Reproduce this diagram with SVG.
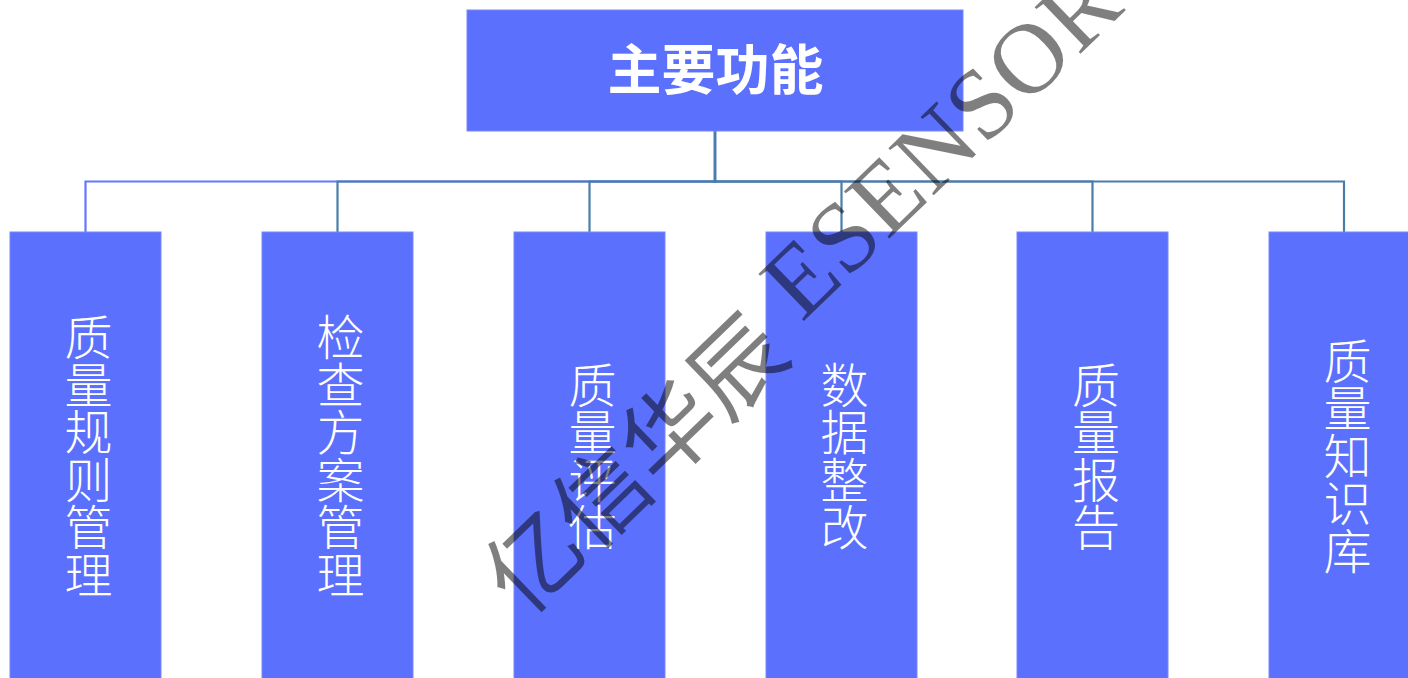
<svg xmlns="http://www.w3.org/2000/svg" width="1408" height="678" viewBox="0 0 1408 678">
<style>
.box{fill:#5B70FC;stroke:#7688FF;stroke-width:1}
.conn{fill:none;stroke:#4A7DA9;stroke-width:2.2}
.conn1{fill:none;stroke:#6676FF;stroke-width:2.2}
.title{font-family:"Noto Sans CJK SC",sans-serif;font-weight:700;font-size:54px;fill:#FFFFFF;text-anchor:middle}
.lbl{font-family:"Noto Sans CJK SC",sans-serif;font-weight:300;font-size:48px;fill:#FFFFFF;text-anchor:middle}
.wm{font-family:"Liberation Serif","Noto Sans CJK SC",serif;font-size:94px;fill:#000000;fill-opacity:0.5}
</style>
<rect x="0" y="0" width="1408" height="678" fill="#FFFFFF"/>
<g id="connectors">
<path class="conn1" d="M715,131 V181.5 H85.5 V232"/>
<path class="conn" d="M715,131 V181.5 H337.5 V232"/>
<path class="conn" d="M715,131 V181.5 H589.5 V232"/>
<path class="conn" d="M715,131 V181.5 H841.5 V232"/>
<path class="conn" d="M715,131 V181.5 H1092.5 V232"/>
<path class="conn" d="M715,131 V181.5 H1344 V232"/>
</g>
<g id="root">
<rect class="box" x="467" y="10" width="496" height="121"/>
<text class="title" x="715.5" y="90">主要功能</text>
</g>
<g id="n1">
<rect class="box" x="10" y="232" width="151" height="450"/>
<text class="lbl"><tspan x="88.5" y="355">质</tspan><tspan x="88.5" y="402.5">量</tspan><tspan x="88.5" y="450">规</tspan><tspan x="88.5" y="497.5">则</tspan><tspan x="88.5" y="545">管</tspan><tspan x="88.5" y="592.5">理</tspan></text>
</g>
<g id="n2">
<rect class="box" x="262" y="232" width="151" height="450"/>
<text class="lbl"><tspan x="340.5" y="355">检</tspan><tspan x="340.5" y="402.5">查</tspan><tspan x="340.5" y="450">方</tspan><tspan x="340.5" y="497.5">案</tspan><tspan x="340.5" y="545">管</tspan><tspan x="340.5" y="592.5">理</tspan></text>
</g>
<g id="n3">
<rect class="box" x="514" y="232" width="151" height="450"/>
<text class="lbl"><tspan x="592.5" y="402.5">质</tspan><tspan x="592.5" y="450">量</tspan><tspan x="592.5" y="497.5">评</tspan><tspan x="592.5" y="545">估</tspan></text>
</g>
<g id="n4">
<rect class="box" x="766" y="232" width="151" height="450"/>
<text class="lbl"><tspan x="844.5" y="402.5">数</tspan><tspan x="844.5" y="450">据</tspan><tspan x="844.5" y="497.5">整</tspan><tspan x="844.5" y="545">改</tspan></text>
</g>
<g id="n5">
<rect class="box" x="1017" y="232" width="151" height="450"/>
<text class="lbl"><tspan x="1096" y="402.5">质</tspan><tspan x="1096" y="450">量</tspan><tspan x="1096" y="497.5">报</tspan><tspan x="1096" y="545">告</tspan></text>
</g>
<g id="n6">
<rect class="box" x="1269" y="232" width="151" height="450"/>
<text class="lbl"><tspan x="1347.5" y="378.5">质</tspan><tspan x="1347.5" y="426">量</tspan><tspan x="1347.5" y="473.5">知</tspan><tspan x="1347.5" y="521">识</tspan><tspan x="1347.5" y="568.5">库</tspan></text>
</g>
<text class="wm" transform="translate(524,619) rotate(-44)">亿信华辰 <tspan dx="6" dy="-20" font-size="100" letter-spacing="1">ESENSOR</tspan></text>
</svg>
